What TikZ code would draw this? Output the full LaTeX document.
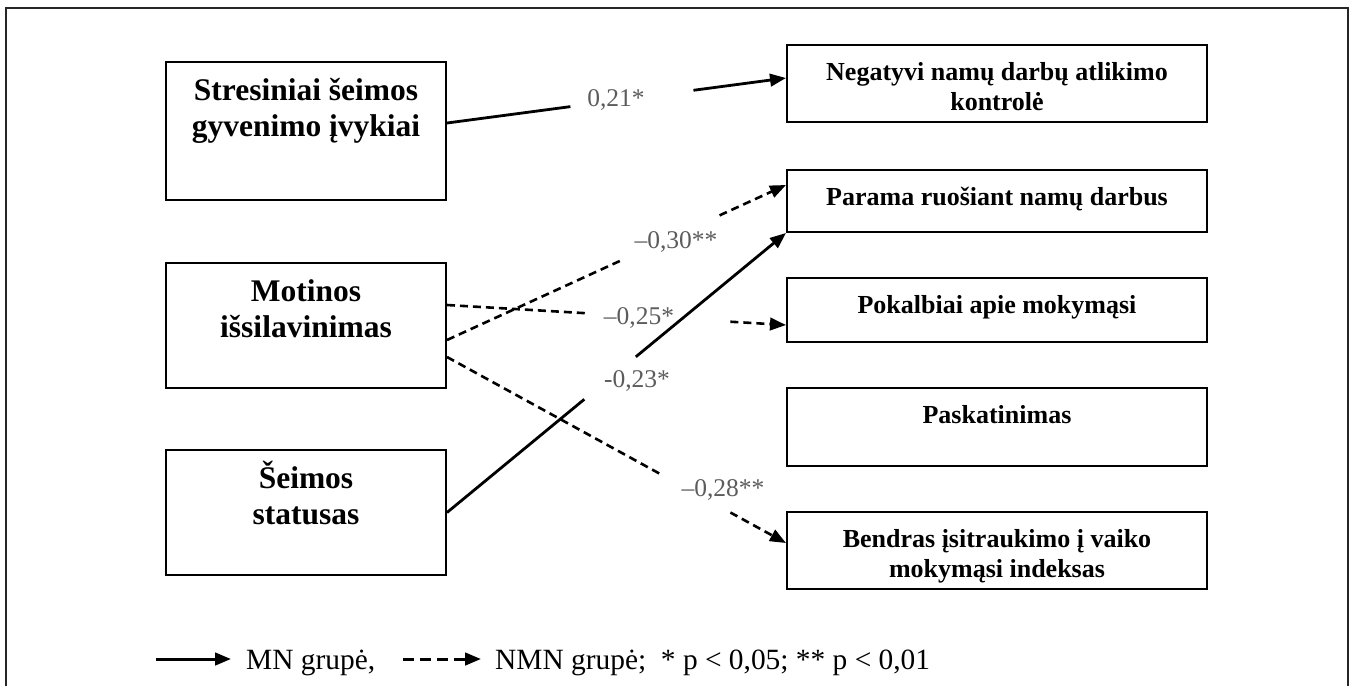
\documentclass[tikz,border=0pt]{standalone}
\usepackage{fontspec}
\setmainfont{Liberation Serif}
\usetikzlibrary{arrows.meta}
\definecolor{labgray}{rgb}{0.36,0.36,0.36}
\begin{document}
\begin{tikzpicture}[x=1pt,y=-1pt,
  lbox/.style={draw=black, line width=2pt, minimum width=280pt, inner sep=0pt},
  rbox/.style={draw=black, line width=2pt, minimum width=420pt, inner sep=0pt},
  ltxt/.style={anchor=base, yshift=-39pt, inner sep=0pt, font=\fontsize{31.5}{36}\selectfont\bfseries},
  rtxt/.style={anchor=base, yshift=-36pt, inner sep=0pt, font=\fontsize{26}{30}\selectfont\bfseries},
  coef/.style={inner sep=0pt, text=labgray, font=\fontsize{25.5}{30}\selectfont},
  tip/.style={-{Triangle[length=16pt,width=12.5pt]}},
  mn/.style={line width=2.8pt, black},
  nmn/.style={line width=2.6pt, black, dash pattern=on 8pt off 5pt},
  legnmn/.style={line width=3pt, black, dash pattern=on 11pt off 6pt},
  legtxt/.style={inner sep=0pt, anchor=base west, font=\fontsize{29.4}{34}\selectfont},
  frame/.style={line width=2pt, black!85}
]
\useasboundingbox (0,0) rectangle (1352,686);
\draw[frame] (6,686) -- (6,8) -- (1348,8) -- (1348,686);

% left boxes
\node[lbox, minimum height=138pt,
  label={[ltxt]north:{\begin{tabular}[t]{@{}c@{}}Stresiniai šeimos\\gyvenimo įvykiai\end{tabular}}}]
  (s) at (306,131) {};
\node[lbox, minimum height=125pt,
  label={[ltxt]north:{\begin{tabular}[t]{@{}c@{}}Motinos\\išsilavinimas\end{tabular}}}]
  (m) at (306,325.5) {};
\node[lbox, minimum height=125pt,
  label={[ltxt]north:{\begin{tabular}[t]{@{}c@{}}Šeimos\\statusas\end{tabular}}}]
  (f) at (306,512.5) {};

% right boxes
\node[rbox, minimum height=77pt,
  label={[rtxt]north:{\begin{tabular}[t]{@{}c@{}}Negatyvi namų darbų atlikimo\\kontrolė\end{tabular}}}]
  (n) at (997,83.5) {};
\node[rbox, minimum height=62pt,
  label={[rtxt]north:{Parama ruošiant namų darbus}}]
  (p) at (997,201) {};
\node[rbox, minimum height=64pt,
  label={[rtxt]north:{Pokalbiai apie mokymąsi}}]
  (k) at (997,310) {};
\node[rbox, minimum height=78pt,
  label={[rtxt]north:{Paskatinimas}}]
  (pa) at (997,427) {};
\node[rbox, minimum height=77pt,
  label={[rtxt]north:{\begin{tabular}[t]{@{}c@{}}Bendras įsitraukimo į vaiko\\mokymąsi indeksas\end{tabular}}}]
  (b) at (997,550.5) {};

% gap coordinates
\path ([yshift=8pt]s.east) -- coordinate[pos=0.364](e1a) coordinate[pos=0.727](e1b) ([yshift=5.5pt]n.west);
\path ([yshift=-14.5pt]m.east) -- coordinate[pos=0.510](e2a) coordinate[pos=0.804](e2b) ([yshift=16pt]p.west);
\path ([yshift=20.5pt]m.east) -- coordinate[pos=0.408](e3a) coordinate[pos=0.836](e3b) ([yshift=-15pt]k.west);
\path ([yshift=-31.5pt]m.east) -- coordinate[pos=0.636](e4a) coordinate[pos=0.836](e4b) ([yshift=7.5pt]b.west);
\path (f.east) -- coordinate[pos=0.405](e5a) coordinate[pos=0.557](e5b) (p.south west);

% dashed (NMN)
\draw[nmn] ([yshift=-14.5pt]m.east) -- (e2a);
\draw[nmn, tip] (e2b) -- ([yshift=16pt]p.west);
\draw[nmn] ([yshift=20.5pt]m.east) -- (e3a);
\draw[nmn, tip] (e3b) -- ([yshift=-15pt]k.west);
\draw[nmn] ([yshift=-31.5pt]m.east) -- (e4a);
\draw[nmn, tip] (e4b) -- ([yshift=7.5pt]b.west);

% solid (MN)
\draw[mn] ([yshift=8pt]s.east) -- (e1a);
\draw[mn, tip] (e1b) -- ([yshift=5.5pt]n.west);
\draw[mn] (f.east) -- (e5a);
\draw[mn, tip] (e5b) -- (p.south west);

% coefficients
\node[coef] (c1) at (616,100) {0,21*};
\node[coef] (c2) at (676,242) {–0,30**};
\node[coef] (c3) at (639,318) {–0,25*};
\node[coef] (c4) at (637,381) {-0,23*};
\node[coef] (c5) at (723,490) {–0,28**};

% legend
\coordinate (la) at (156,659);
\coordinate (lb) at (231,659);
\draw[mn, line width=3pt, tip] (la) -- (lb);
\node[legtxt] (lt1) at (246,669) {MN grupė,};
\coordinate (lc) at (403,659);
\coordinate (ld) at (481,659);
\draw[legnmn, tip] (lc) -- (ld);
\node[legtxt] (lt2) at (495,669) {NMN grupė;\ \ * p < 0,05; ** p < 0,01};
\end{tikzpicture}
\end{document}
